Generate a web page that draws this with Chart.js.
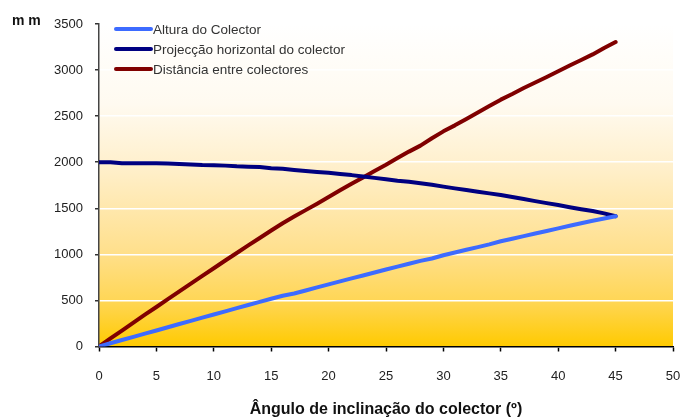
<!DOCTYPE html>
<html>
<head>
<meta charset="utf-8">
<script src="https://cdn.jsdelivr.net/npm/chart.js@4/dist/chart.umd.min.js"></script>
<style>
  html, body { margin: 0; padding: 0; background: #fff; }
  #wrap { width: 682px; height: 417px; }
</style>
</head>
<body>
<div id="wrap"><canvas id="grafColector" width="682" height="417"></canvas></div>
<script>
// angulo de inclinacao (graus)
var angulos = [0, 1, 2, 3, 4, 5, 6, 7, 8, 9, 10, 11, 12, 13, 14, 15, 16, 17, 18, 19, 20, 21, 22,
    23, 24, 25, 26, 27, 28, 29, 30, 31, 32, 33, 34, 35, 36, 37, 38, 39, 40, 41, 42, 43, 44, 45];

// valores em mm
var alturaColector = [0, 35, 70, 105, 140, 174, 209, 244, 278, 313, 347, 382, 416, 450, 484, 518,
    551, 575, 608, 641, 674, 707, 739, 771, 803, 835, 867, 898, 929, 955, 990, 1020, 1050, 1079,
    1108, 1142, 1170, 1198, 1226, 1254, 1282, 1310, 1338, 1364, 1389, 1414];
var projeccaoHorizontal = [2000, 2000, 1990, 1990, 1990, 1990, 1985, 1980, 1975, 1970, 1968, 1963,
    1955, 1952, 1948, 1935, 1928, 1915, 1904, 1895, 1885, 1872, 1860, 1845, 1830, 1815, 1800, 1788,
    1772, 1755, 1735, 1716, 1698, 1680, 1662, 1644, 1622, 1600, 1578, 1556, 1535, 1512, 1490, 1470,
    1445, 1414];
var distanciaColectores = [0, 87, 173, 259, 345, 429, 514, 599, 682, 767, 849, 933, 1015, 1097,
    1178, 1259, 1337, 1410, 1480, 1550, 1622, 1695, 1765, 1835, 1905, 1973, 2045, 2115, 2180, 2260,
    2335, 2400, 2470, 2540, 2610, 2679, 2740, 2805, 2865, 2925, 2987, 3050, 3110, 3170, 3240, 3305];

var ticksX = [0, 5, 10, 15, 20, 25, 30, 35, 40, 45, 50];
var ticksY = [0, 500, 1000, 1500, 2000, 2500, 3000, 3500];

var nomesSeries = ['Altura do Colector', 'Projecção horizontal do colector', 'Distância entre colectores'];
var coresSeries = ['#3D6BFF', '#000080', '#800000'];

var FONTE = '"Liberation Sans", Arial, sans-serif';

function pontos(valores) {
    return angulos.map(function (a, i) { return { x: a, y: valores[i] }; });
}

// fundo em degrade dentro da area do grafico
var fundoDegrade = {
    id: 'fundoDegrade',
    beforeDraw: function (chart) {
        var a = chart.chartArea;
        var ctx = chart.ctx;
        var g = ctx.createLinearGradient(0, a.top, 0, a.bottom);
        g.addColorStop(0, '#FFFFFF');
        g.addColorStop(0.25, '#FFFAF0');
        g.addColorStop(0.45, '#FFEFCA');
        g.addColorStop(0.7, '#FFE08E');
        g.addColorStop(0.86, '#FFD655');
        g.addColorStop(1, '#FFCA00');
        ctx.save();
        ctx.fillStyle = g;
        ctx.fillRect(a.left, a.top, a.right - a.left, a.bottom - a.top);
        ctx.restore();
    }
};

// legenda dentro do grafico + unidade "mm"
var legendaInterna = {
    id: 'legendaInterna',
    afterDraw: function (chart) {
        var ctx = chart.ctx;
        ctx.save();
        ctx.font = 'bold 14px ' + FONTE;
        ctx.fillStyle = '#111';
        ctx.textBaseline = 'middle';
        ctx.fillText('m m', 12, 21);

        ctx.font = '13.5px ' + FONTE;
        var y0 = 29;
        chart.data.datasets.forEach(function (ds, i) {
            var y = y0 + i * 20;
            ctx.strokeStyle = ds.borderColor;
            ctx.lineWidth = 4;
            ctx.lineCap = 'round';
            ctx.beginPath();
            ctx.moveTo(116, y);
            ctx.lineTo(151, y);
            ctx.stroke();
            ctx.fillStyle = '#333';
            ctx.fillText(ds.label, 153, y + 1);
        });
        ctx.restore();
    }
};

var dados = {
    datasets: [
        { label: nomesSeries[0], data: pontos(alturaColector), borderColor: coresSeries[0] },
        { label: nomesSeries[1], data: pontos(projeccaoHorizontal), borderColor: coresSeries[1] },
        { label: nomesSeries[2], data: pontos(distanciaColectores), borderColor: coresSeries[2] }
    ].map(function (d) {
        d.borderWidth = 4;
        d.pointRadius = 0;
        d.tension = 0;
        d.fill = false;
        d.borderCapStyle = 'round';
        d.borderJoinStyle = 'round';
        return d;
    })
};

var config = {
    type: 'line',
    data: dados,
    options: {
        responsive: false,
        animation: false,
        layout: { padding: { top: 24, right: 9, left: 0, bottom: 0 } },
        plugins: {
            legend: { display: false },
            tooltip: { enabled: false }
        },
        scales: {
            x: {
                type: 'linear',
                min: 0,
                max: 50,
                afterBuildTicks: function (s) { s.ticks = ticksX.map(function (v) { return { value: v }; }); },
                afterFit: function (s) {
                    s.height = 70.5;
                    s.paddingLeft = 0;
                    s.paddingRight = 0;
                },
                border: { color: '#000', width: 1.5 },
                grid: { drawOnChartArea: false, tickLength: 5, tickColor: '#000', tickWidth: 1.5 },
                ticks: {
                    padding: 17,
                    color: '#222',
                    font: { family: FONTE, size: 13 }
                },
                title: {
                    display: true,
                    text: 'Ângulo de inclinação do colector (º)',
                    color: '#111',
                    font: { family: FONTE, size: 16, weight: 'bold' },
                    padding: { top: 0, bottom: -2 }
                }
            },
            y: {
                min: 0,
                max: 3500,
                afterBuildTicks: function (s) { s.ticks = ticksY.map(function (v) { return { value: v }; }); },
                afterFit: function (s) { s.width = 99; },
                border: { color: '#444', width: 1.5 },
                grid: { color: '#FFFFFF', lineWidth: 1.5, tickLength: 4, tickColor: '#333' },
                ticks: {
                    padding: 12,
                    color: '#222',
                    font: { family: FONTE, size: 13 },
                    callback: function (v) { return String(v); }
                }
            }
        }
    },
    plugins: [fundoDegrade, legendaInterna]
};

var grafico = new Chart(document.getElementById('grafColector'), config);
</script>
</body>
</html>
